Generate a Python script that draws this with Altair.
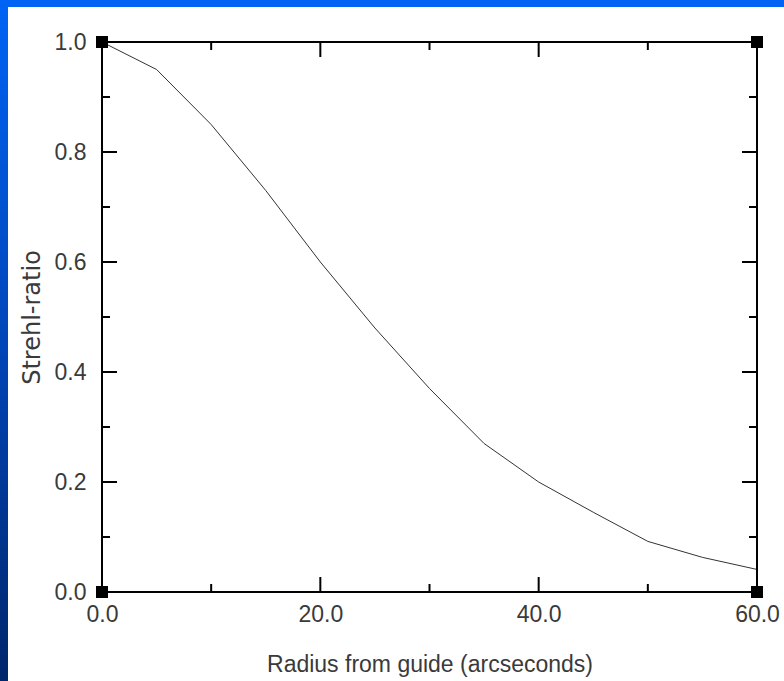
import altair as alt
import pandas as pd

# ---- data ----
radius = [0, 5, 10, 15, 20, 25, 30, 35, 40, 45, 50, 55, 60]
strehl = [1.0, 0.95, 0.85, 0.73, 0.60, 0.48, 0.37, 0.27, 0.20, 0.145, 0.092, 0.063, 0.041]
x_major = [0, 20, 40, 60]
x_minor = [10, 30, 50]
y_major = [0.0, 0.2, 0.4, 0.6, 0.8, 1.0]
y_minor = [0.1, 0.3, 0.5, 0.7, 0.9]
x_domain = [0, 60]
y_domain = [0, 1]
x_title = "Radius from guide (arcseconds)"
y_title = "Strehl-ratio"

W, H = 655, 550
PL, PT = 102, 42
PR = 784 - PL - W
PB = 681 - PT - H
FONT = "Liberation Sans"
TXT = "#3a3a3a"
MAJ, MIN = 15, 8

xs = alt.Scale(domain=x_domain, nice=False, zero=False)
ys = alt.Scale(domain=y_domain, nice=False, zero=False)

x_axis = alt.Axis(values=x_major, format=".1f", domain=False, ticks=False, tickSize=0,
                  grid=False, labelFont=FONT, labelFontSize=23, labelColor=TXT,
                  labelPadding=11, labelFlush=False, labelOverlap=False,
                  title=x_title, titleFont=FONT, titleFontSize=23, titleFontWeight="normal",
                  titleColor=TXT, titleX=W / 2, titleY=72, titleBaseline="middle",
                  titleAlign="center", zindex=1)
y_axis = alt.Axis(values=y_major, format=".1f", domain=False, ticks=False, tickSize=0,
                  grid=False, labelFont=FONT, labelFontSize=23, labelColor=TXT,
                  labelPadding=16, labelFlush=False, labelOverlap=False,
                  title=y_title, titleFont="DejaVu Sans", titleFontSize=24, titleFontWeight="normal",
                  titleColor=TXT, titleX=-70, titleY=H / 2, titleAngle=270,
                  titleBaseline="middle", titleAlign="center", zindex=1)

one = pd.DataFrame({"k": [0]})

bg = alt.Chart(one).mark_rect(
    color=alt.LinearGradient(gradient="linear",
                             stops=[alt.GradientStop(color="#0064f5", offset=0),
                                    alt.GradientStop(color="#0046b8", offset=0.5),
                                    alt.GradientStop(color="#00266c", offset=1)],
                             x1=0, y1=0, x2=0, y2=1)
).encode(x=alt.value(-PL), x2=alt.value(W + PR), y=alt.value(-PT), y2=alt.value(H + PB))

white = alt.Chart(one).mark_rect(color="white").encode(
    x=alt.value(-PL + 8), x2=alt.value(W + PR), y=alt.value(-PT + 7), y2=alt.value(H + PB))

df = pd.DataFrame({"radius": radius, "strehl": strehl})
line = alt.Chart(df).mark_line(color="#333333", strokeWidth=1).encode(
    x=alt.X("radius:Q", scale=xs, axis=x_axis),
    y=alt.Y("strehl:Q", scale=ys, axis=y_axis))

def xticks(vals, length):
    d = pd.DataFrame({"radius": vals})
    base = alt.Chart(d).mark_rule(color="black", strokeWidth=2)
    enc_x = alt.X("radius:Q", scale=xs, axis=x_axis)
    bottom = base.encode(x=enc_x, y=alt.value(H), y2=alt.value(H - length))
    top = base.encode(x=enc_x, y=alt.value(0), y2=alt.value(length))
    return [bottom, top]

def yticks(vals, length):
    d = pd.DataFrame({"strehl": vals})
    base = alt.Chart(d).mark_rule(color="black", strokeWidth=2)
    enc_y = alt.Y("strehl:Q", scale=ys, axis=y_axis)
    left = base.encode(y=enc_y, x=alt.value(0), x2=alt.value(length))
    right = base.encode(y=enc_y, x=alt.value(W), x2=alt.value(W - length))
    return [left, right]

frame_v = alt.Chart(pd.DataFrame({"radius": x_domain})).mark_rule(color="black", strokeWidth=2).encode(
    x=alt.X("radius:Q", scale=xs, axis=x_axis), y=alt.value(0), y2=alt.value(H))
frame_h = alt.Chart(pd.DataFrame({"strehl": y_domain})).mark_rule(color="black", strokeWidth=2).encode(
    y=alt.Y("strehl:Q", scale=ys, axis=y_axis), x=alt.value(0), x2=alt.value(W))

corner_df = pd.DataFrame({"radius": [x_domain[0], x_domain[0], x_domain[1], x_domain[1]],
                          "strehl": [y_domain[0], y_domain[1], y_domain[0], y_domain[1]]})
corners = alt.Chart(corner_df).mark_point(shape="square", filled=True, color="black",
                                          size=144, opacity=1).encode(
    x=alt.X("radius:Q", scale=xs, axis=x_axis),
    y=alt.Y("strehl:Q", scale=ys, axis=y_axis))

layers = [bg, white, line] + xticks(x_major, MAJ) + xticks(x_minor, MIN) \
    + yticks(y_major, MAJ) + yticks(y_minor, MIN) + [frame_v, frame_h, corners]

chart = alt.layer(*layers).properties(
    width=W, height=H,
    padding={"left": PL, "top": PT, "right": PR, "bottom": PB},
    autosize=alt.AutoSizeParams(type="none"),
    background="white",
).configure_view(stroke=None)

chart.save("out.html", embed_options={"renderer": "svg", "actions": False})
